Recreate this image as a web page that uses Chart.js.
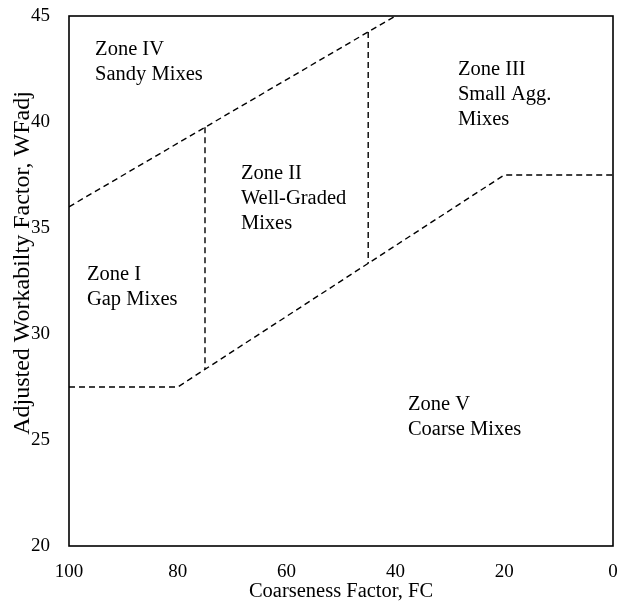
<!DOCTYPE html>
<html>
<head>
<meta charset="utf-8">
<script src="https://cdn.jsdelivr.net/npm/chart.js@4.4.0/dist/chart.umd.min.js"></script>
<style>
  html, body { margin: 0; padding: 0; background: #fff; }
  #wrap { width: 621px; height: 604px; }
</style>
</head>
<body>
<div id="wrap"><canvas id="grafica"></canvas></div>
<script>
// limites de zonas (FC, WFadj)
const limiteSuperior_x = [100, 40];
const limiteSuperior_y = [36, 45];
const limiteInferior_x = [100, 80, 20, 0];
const limiteInferior_y = [27.5, 27.5, 37.5, 37.5];
const divisionI_x = [75, 75];
const divisionI_y = [39.75, 28.33];
const divisionII_x = [45, 45];
const divisionII_y = [44.25, 33.33];

// etiquetas de zonas
const zonas = [
  ["Zone IV", "Sandy Mixes"],
  ["Zone II", "Well-Graded", "Mixes"],
  ["Zone III", "Small Agg.", "Mixes"],
  ["Zone I", "Gap Mixes"],
  ["Zone V", "Coarse Mixes"]
];
const zonas_x = [95.2, 68.4, 28.5, 96.7, 37.7];
const zonas_y = [43.4, 37.55, 42.45, 32.8, 26.65];

const tituloX = "Coarseness Factor, FC";
// espacios al inicio para subir un poco el titulo como en el original
const tituloY = "      Adjusted Workabilty Factor, WFadj";

const fuente = "'Liberation Serif', 'Times New Roman', serif";

let puntos = function(xs, ys) {
  return xs.map((x, i) => ({ x: x, y: ys[i] }));
};

let linea = function(xs, ys) {
  return {
    data: puntos(xs, ys),
    borderColor: '#000',
    borderWidth: 1.4,
    borderDash: [6, 4],
    pointRadius: 0,
    fill: false,
    tension: 0
  };
};

// marco y textos de zonas
const marcoYTextos = {
  id: 'marcoYTextos',
  afterDraw(chart) {
    const ctx = chart.ctx;
    const a = chart.chartArea;
    const sx = chart.scales.x, sy = chart.scales.y;
    ctx.save();
    ctx.strokeStyle = '#000';
    ctx.lineWidth = 1.6;
    ctx.strokeRect(a.left, a.top, a.right - a.left, a.bottom - a.top);
    ctx.fillStyle = '#000';
    ctx.font = "20.5px " + fuente;
    ctx.textAlign = 'left';
    ctx.textBaseline = 'middle';
    zonas.forEach((lineas, i) => {
      const px = sx.getPixelForValue(zonas_x[i]);
      const py = sy.getPixelForValue(zonas_y[i]);
      lineas.forEach((t, j) => ctx.fillText(t, px, py + j * 25));
    });
    ctx.restore();
  }
};

new Chart(document.getElementById('grafica'), {
  type: 'line',
  data: {
    datasets: [
      linea(limiteSuperior_x, limiteSuperior_y),
      linea(limiteInferior_x, limiteInferior_y),
      linea(divisionI_x, divisionI_y),
      linea(divisionII_x, divisionII_y)
    ]
  },
  options: {
    responsive: true,
    maintainAspectRatio: false,
    animation: false,
    layout: { padding: { top: 16, right: 8, left: 0, bottom: 0 } },
    plugins: { legend: { display: false }, tooltip: { enabled: false } },
    scales: {
      x: {
        type: 'linear',
        min: 0, max: 100,
        reverse: true,
        afterFit: (s) => { s.height = 58; s.paddingLeft = 0; s.paddingRight = 0; },
        grid: { display: false, drawTicks: false },
        border: { display: false },
        ticks: { stepSize: 20, color: '#000', padding: 15, font: { family: fuente, size: 19 } },
        title: { display: true, text: tituloX, color: '#000', padding: { top: 0, bottom: 0 }, font: { family: fuente, size: 20.5 } }
      },
      y: {
        type: 'linear',
        min: 20, max: 45,
        afterFit: (s) => { s.width = 69; s.paddingTop = 0; s.paddingBottom = 0; },
        grid: { display: false, drawTicks: false },
        border: { display: false },
        ticks: { stepSize: 5, color: '#000', padding: 19, font: { family: fuente, size: 19 } },
        title: { display: true, text: tituloY, color: '#000', padding: { top: 8, bottom: 0 }, font: { family: fuente, size: 24 } }
      }
    }
  },
  plugins: [marcoYTextos]
});
</script>
</body>
</html>
